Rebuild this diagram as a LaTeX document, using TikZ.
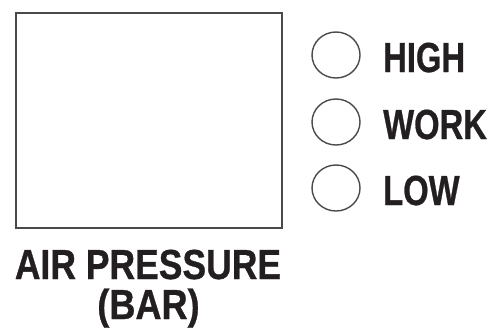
\documentclass[tikz,border=0pt]{standalone}
\usepackage{fontspec}
\setmainfont{Liberation Sans}
\newfontfamily\heavyfont[FakeBold=0.8]{Liberation Sans Bold}
\definecolor{ink}{HTML}{231F20}
\definecolor{frame}{HTML}{4A4A4A}
\begin{document}
\begin{tikzpicture}[x=1pt,y=-1pt,
  lbl/.style={inner sep=0pt,text=ink,font=\fontsize{42}{48}\heavyfont},
  lamp/.style={draw=frame,line width=1.4pt}]
\useasboundingbox (0,0) rectangle (494,335);
\draw[draw=frame,line width=1.8pt] (16,13) rectangle (282,228);
\draw[lamp] (336,55) ellipse [x radius=24,y radius=23];
\draw[lamp] (336,122) ellipse [x radius=24,y radius=23];
\draw[lamp] (336,188) ellipse [x radius=24,y radius=23];
\node[lbl,anchor=base west] (high) at (383,72) {\scalebox{0.78}[1]{HIGH}};
\node[lbl,anchor=base west] (work) at (383,139) {\scalebox{0.78}[1]{WORK}};
\node[lbl,anchor=base west] (low) at (383,205) {\scalebox{0.78}[1]{LOW}};
\node[lbl,anchor=base] (air) at (148,279) {\scalebox{0.845}[1]{AIR PRESSURE}};
\node[lbl,anchor=base] (bar) at (148.5,319) {\scalebox{0.86}[1]{(BAR)}};
\end{tikzpicture}
\end{document}
